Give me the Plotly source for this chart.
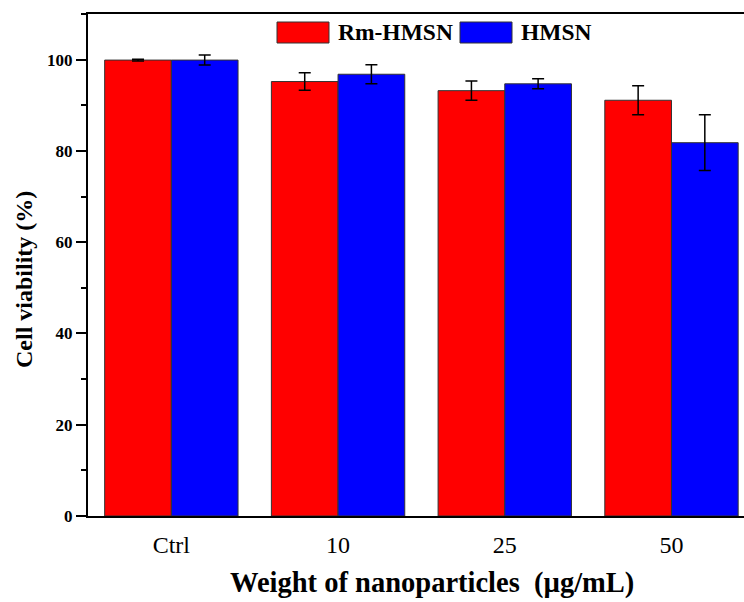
import plotly.graph_objects as go

categories = ["Ctrl", "10", "25", "50"]
rm_hmsn = [99.9, 95.2, 93.2, 91.1]
rm_hmsn_err = [0.2, 1.9, 2.1, 3.2]
hmsn = [99.9, 96.8, 94.7, 81.8]
hmsn_err = [1.1, 2.1, 1.1, 6.1]
series_names = ["Rm-HMSN", "HMSN"]
series_colors = ["#ff0000", "#0000ff"]
y_ticks = [0, 20, 40, 60, 80, 100]

FONT = "Liberation Serif"

fig = go.Figure()
for name, vals, errs, col in zip(series_names, [rm_hmsn, hmsn], [rm_hmsn_err, hmsn_err], series_colors):
    fig.add_trace(go.Bar(
        x=list(range(len(categories))), y=vals, name=name,
        marker=dict(color=col, line=dict(color="#333333", width=1)),
        error_y=dict(type="data", array=errs, visible=True, color="black", thickness=1.5, width=6),
        showlegend=False,
    ))

# custom legend (wide swatches as in the reference)
legend_items = [(277, 329, 336), (460, 512, 519)]
for (x0, x1, tx), name, col in zip(legend_items, series_names, series_colors):
    fig.add_shape(type="rect", xref="paper", yref="paper",
                  x0=(x0 - 88) / 656, x1=(x1 - 88) / 656,
                  y0=(516 - 43) / 502, y1=(516 - 22) / 502,
                  fillcolor=col, line=dict(color="#333333", width=1))
    fig.add_annotation(text="<b>%s</b>" % name, xref="paper", yref="paper",
                       x=(tx - 88) / 656, y=(516 - 32) / 502, xanchor="left", yanchor="middle",
                       showarrow=False, font=dict(family=FONT, size=23.5, color="black"))

fig.add_annotation(text="<b>Weight of nanoparticles  (µg/mL)</b>", xref="paper", yref="paper",
                   x=(432 - 88) / 656, y=(516 - 583) / 502, xanchor="center", yanchor="middle",
                   showarrow=False, font=dict(family=FONT, size=28.5, color="black"))
fig.add_annotation(text="<b>Cell viability (%)</b>", xref="paper", yref="paper",
                   x=(24 - 88) / 656, y=(516 - 280) / 502, xanchor="center", yanchor="middle",
                   textangle=-90, showarrow=False, font=dict(family=FONT, size=24, color="black"))

fig.update_layout(
    width=744, height=602,
    margin=dict(l=88, r=0, t=14, b=86),
    paper_bgcolor="white", plot_bgcolor="white",
    barmode="group", bargap=0.2, bargroupgap=0,
    font=dict(family=FONT, color="black"),
)
fig.update_xaxes(
    range=[-0.5, 3.435], tickmode="array", tickvals=list(range(len(categories))), ticktext=categories,
    showline=True, linecolor="black", linewidth=2, mirror=True, ticks="",
    showgrid=False, zeroline=False, ticklabelstandoff=6,
    tickfont=dict(family=FONT, size=24, color="black"),
)
fig.update_yaxes(
    range=[0, 110], tickmode="array", tickvals=y_ticks, ticktext=["<b>%d</b>" % v for v in y_ticks],
    showline=True, linecolor="black", linewidth=2, ticks="outside", ticklen=10, tickwidth=2, tickcolor="black",
    minor=dict(dtick=10, tick0=0, ticks="outside", ticklen=5, tickwidth=2, tickcolor="black", showgrid=False),
    showgrid=False, zeroline=False,
    tickfont=dict(family=FONT, size=17, color="black"),
)

fig.write_html("out.html")
